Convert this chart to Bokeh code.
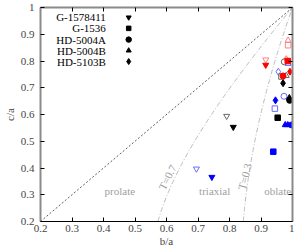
import numpy as np
from bokeh.plotting import figure
from bokeh.models import ColumnDataSource, LinearAxis, FixedTicker, CustomJSTickFormatter
from bokeh.core.properties import value
from bokeh.embed import file_html
from bokeh.resources import INLINE

FONT = "Liberation Serif"

# ---- data ----
ticks = [0.2, 0.3, 0.4, 0.5, 0.6, 0.7, 0.8, 0.9, 1.0]
galaxies = ["G-1578411", "G-1536", "HD-5004A", "HD-5004B", "HD-5103B"]
markers = ["inverted_triangle", "square", "circle", "triangle", "diamond"]
legend_y = [0.963, 0.922, 0.880, 0.839, 0.798]
legend_text_x = 0.4075
legend_marker_x = 0.48

# black (filled / open)
black_f_gal = ["G-1578411", "G-1536", "HD-5004A", "HD-5004B", "HD-5103B"]
black_f_x = [0.812, 0.953, 0.991, 0.990, 0.970]
black_f_y = [0.553, 0.588, 0.653, 0.662, 0.717]
black_o_gal = ["G-1578411", "G-1536", "HD-5004A", "HD-5004B"]
black_o_x = [0.791, 0.965, 0.974, 0.980]
black_o_y = [0.594, 0.742, 0.797, 0.745]

# red (filled / open)
red_f_gal = ["G-1578411", "G-1536", "HD-5004A", "HD-5103B"]
red_f_x = [0.915, 0.985, 0.970, 0.992]
red_f_y = [0.785, 0.800, 0.744, 0.760]
red_o_gal = ["G-1578411", "G-1536", "HD-5004B", "HD-5103B"]
red_o_x = [0.915, 0.986, 0.986, 0.980]
red_o_y = [0.805, 0.859, 0.877, 0.807]

# blue (filled / open)
blue_f_gal = ["G-1578411", "G-1536", "HD-5004A", "HD-5004B", "HD-5004B", "HD-5103B"]
blue_f_x = [0.744, 0.939, 0.997, 0.985, 0.977, 0.946]
blue_f_y = [0.366, 0.461, 0.561, 0.561, 0.561, 0.653]
blue_o_gal = ["G-1578411", "G-1536", "HD-5004A", "HD-5004B", "HD-5103B"]
blue_o_x = [0.695, 0.944, 0.973, 0.986, 0.955]
blue_o_y = [0.397, 0.622, 0.668, 0.790, 0.760]

diag = [0.2, 1.0]
T_values = [0.7, 0.3]
T_label_x = [0.603, 0.848]
T_label_y = [0.365, 0.368]
T_label_angle_deg = [63, 76]

region_names = ["prolate", "triaxial", "oblate"]
region_x = [0.452, 0.753, 0.953]
region_y = [0.313, 0.313, 0.313]

marker_of = dict(zip(galaxies, markers))

p = figure(frame_width=252, frame_height=214, x_range=(0.2, 1.0), y_range=(0.2, 1.0),
           output_backend="svg", toolbar_location=None,
           min_border_left=0, min_border_right=2, min_border_top=7, min_border_bottom=0,
           x_axis_label="b/a", y_axis_label="c/a")
p.outline_line_color = None
p.xgrid.visible = False
p.ygrid.visible = False
p.background_fill_color = "white"
p.border_fill_color = "white"

def style_axis(ax, line_color, line_width, show_labels):
    ax.ticker = FixedTicker(ticks=ticks)
    ax.major_tick_in = 4
    ax.major_tick_out = 0
    ax.minor_tick_line_color = None
    ax.major_tick_line_color = "black"
    ax.axis_line_color = line_color
    ax.axis_line_width = line_width
    ax.major_label_text_font = FONT
    ax.axis_label_text_font = FONT
    ax.axis_label_text_font_style = "normal"
    ax.axis_label_text_font_size = "11px"
    ax.major_label_text_font_size = "11px"
    if show_labels:
        ax.major_label_overrides = {1.0: "1"}
    else:
        ax.formatter = CustomJSTickFormatter(code="return ''")
        ax.major_label_text_color = None
        ax.major_label_standoff = 0

style_axis(p.xaxis[0], "black", 1, True)
style_axis(p.yaxis[0], "#8a8a8a", 2, True)
p.xaxis[0].major_label_standoff = 3
p.xaxis[0].axis_label_standoff = 0
p.yaxis[0].major_label_standoff = 6
p.yaxis[0].axis_label_standoff = 2

top = LinearAxis()
right = LinearAxis()
style_axis(top, "#8a8a8a", 2, False)
style_axis(right, "#8a8a8a", 2, False)
p.add_layout(top, "above")
p.add_layout(right, "right")

# reference lines
p.line(diag, diag, line_color="#333333", line_width=0.8, line_dash="2 2")
c = np.linspace(0.2, 1.0, 200)
for T in T_values:
    b = np.sqrt(1 - T * (1 - c ** 2))
    p.line(b, c, line_color="#a8a8a8", line_width=0.8, line_dash="5 2 1 2")

p.text(x=T_label_x, y=T_label_y, text=["T=%.1f" % t for t in T_values],
       angle=[np.deg2rad(a) for a in T_label_angle_deg],
       text_align="center", text_baseline="middle", text_color="#a0a0a0",
       text_font=value(FONT), text_font_size="11px")
p.text(x=region_x, y=region_y, text=region_names, text_align="center",
       text_baseline="middle", text_color="#a0a0a0",
       text_font=value(FONT), text_font_size="11px")

def pts(gal, xs, ys, color, filled):
    sizes = {"inverted_triangle": 6, "square": 5.5, "circle": 6, "triangle": 6, "diamond": 7}
    mk = [marker_of[g] for g in gal]
    src = ColumnDataSource(dict(x=xs, y=ys, m=mk, s=[sizes[m] for m in mk]))
    if filled:
        p.scatter("x", "y", marker="m", size="s", source=src,
                  fill_color=color, line_color=color, line_width=1)
    else:
        p.scatter("x", "y", marker="m", size="s", source=src,
                  fill_color=None, line_color=color, line_width=1)

pts(blue_o_gal, blue_o_x, blue_o_y, "#6a6aff", False)
pts(red_o_gal, red_o_x, red_o_y, "#ff7f7f", False)
pts(black_o_gal, black_o_x, black_o_y, "#666666", False)
pts(blue_f_gal, blue_f_x, blue_f_y, "#0000ff", True)
pts(black_f_gal, black_f_x, black_f_y, "black", True)
pts(red_f_gal, red_f_x, red_f_y, "#ff0000", True)

# legend
p.text(x=[legend_text_x] * len(galaxies), y=legend_y, text=galaxies,
       text_align="right", text_baseline="middle", text_color="black",
       text_font=value(FONT), text_font_size="11px")
lsrc = ColumnDataSource(dict(x=[legend_marker_x] * len(galaxies), y=legend_y, m=markers,
                             s=[5, 4.5, 5.5, 5, 6]))
p.scatter("x", "y", marker="m", size="s", source=lsrc, fill_color="black", line_color="black")

open("out.html", "w").write(file_html(p, INLINE))
